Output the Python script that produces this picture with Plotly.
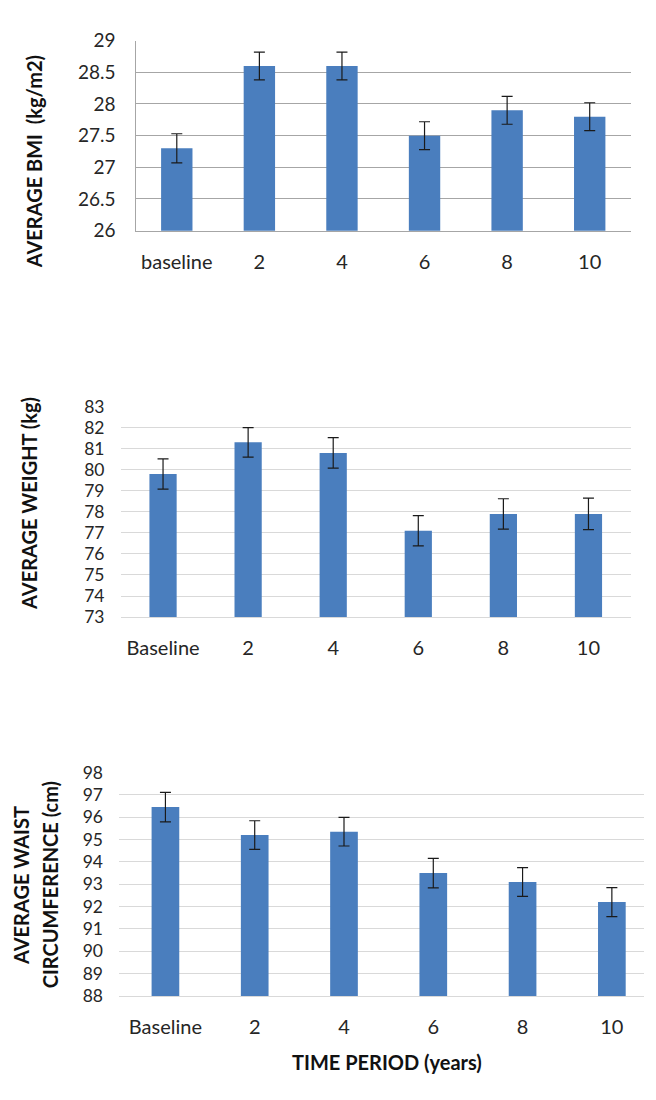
import plotly.graph_objects as go

W, H = 656, 1100

# ---- data ----
bmi_labels = ["baseline", "2", "4", "6", "8", "10"]
bmi_values = [27.3, 28.6, 28.6, 27.5, 27.9, 27.8]
bmi_errors = [0.23, 0.22, 0.22, 0.22, 0.22, 0.22]

weight_labels = ["Baseline", "2", "4", "6", "8", "10"]
weight_values = [79.8, 81.3, 80.8, 77.1, 77.9, 77.9]
weight_errors = [0.72, 0.70, 0.72, 0.72, 0.72, 0.75]

waist_labels = ["Baseline", "2", "4", "6", "8", "10"]
waist_values = [96.45, 95.2, 95.35, 93.5, 93.1, 92.2]
waist_errors = [0.66, 0.64, 0.64, 0.66, 0.64, 0.65]

BAR = "#4A7EBE"
FONT = "Lato"
TXT = "#262626"


def fx(px):
    return px / W


def fy(px):
    return 1 - px / H


fig = go.Figure()

panels = [
    dict(x=bmi_labels, y=bmi_values, e=bmi_errors, w=0.38, xa="x", ya="y"),
    dict(x=weight_labels, y=weight_values, e=weight_errors, w=0.32, xa="x2", ya="y2"),
    dict(x=waist_labels, y=waist_values, e=waist_errors, w=0.31, xa="x3", ya="y3"),
]
for p in panels:
    fig.add_trace(go.Bar(
        x=p["x"], y=p["y"], width=p["w"],
        marker=dict(color=BAR, line=dict(width=0)),
        error_y=dict(type="data", array=p["e"], visible=True,
                     color="#1a1a1a", thickness=1.2, width=5.5),
        xaxis=p["xa"], yaxis=p["ya"], showlegend=False,
    ))

xtickfont = dict(family=FONT, size=20, color=TXT)
ytickfont_top = dict(family=FONT, size=19, color=TXT)
ytickfont = dict(family=FONT, size=17.5, color=TXT)

common_x = dict(type="category", showgrid=False, zeroline=False,
                ticks="outside", ticklen=0, tickcolor="rgba(0,0,0,0)",
                tickfont=xtickfont, ticklabelstandoff=13, fixedrange=True)
common_y = dict(zeroline=False, ticks="", ticklabelstandoff=15, fixedrange=True)

fig.update_layout(
    width=W, height=H,
    margin=dict(l=0, r=0, t=0, b=0),
    paper_bgcolor="white", plot_bgcolor="white",
    font=dict(family=FONT, color=TXT),
    xaxis=dict(common_x, domain=[fx(135.5), fx(631)], anchor="y",
               showline=True, linecolor="#a6a6a6", linewidth=1.2),
    yaxis=dict(common_y, domain=[fy(223.3), fy(29.3)], anchor="x",
               range=[26, 29], dtick=0.5, tickformat=".1~f",
               tickfont=ytickfont_top,
               showgrid=True, gridcolor="#a6a6a6", gridwidth=1.2,
               showline=True, linecolor="#a6a6a6", linewidth=1.2),
    xaxis2=dict(common_x, domain=[fx(120.5), fx(631)], anchor="y2",
                showline=True, linecolor="#d9d9d9", linewidth=1),
    yaxis2=dict(common_y, domain=[fy(618), fy(403)], anchor="x2",
                range=[73, 83], dtick=1, tickfont=ytickfont,
                showgrid=True, gridcolor="#d9d9d9", gridwidth=1,
                showline=False),
    xaxis3=dict(common_x, domain=[fx(119), fx(644)], anchor="y3",
                range=[-0.52, 5.36],
                showline=True, linecolor="#d9d9d9", linewidth=1),
    yaxis3=dict(common_y, domain=[fy(1005), fy(776.7)], anchor="x3",
                range=[88, 98], dtick=1, tickfont=ytickfont,
                showgrid=True, gridcolor="#d9d9d9", gridwidth=1,
                showline=False),
)

title_font = dict(family=FONT, size=20, color="#111111")
ann = [
    dict(text="<b>AVERAGE BMI  (kg/m2)</b>", x=fx(33.5), y=fy(153), textangle=-90),
    dict(text="<b>AVERAGE WEIGHT (kg)</b>", x=fx(28.5), y=fy(502), textangle=-90),
    dict(text="<b>AVERAGE WAIST</b>", x=fx(21.7), y=fy(892), textangle=-90),
    dict(text="<b>CIRCUMFERENCE (cm)</b>", x=fx(50), y=fy(892), textangle=-90),
    dict(text="<b>TIME PERIOD (years)</b>", x=fx(387), y=fy(1072), textangle=0),
]
for a in ann:
    fig.add_annotation(xref="paper", yref="paper", showarrow=False,
                       xanchor="center", yanchor="middle",
                       font=title_font, **a)

fig.write_html(
    "out.html",
    config={"displayModeBar": False},
    post_script="document.body.style.margin='0';document.body.style.overflow='hidden';",
)
